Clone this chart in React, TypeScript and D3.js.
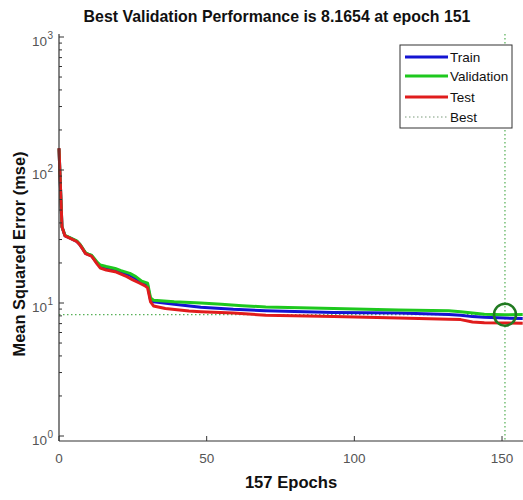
import React from "react";
import * as d3 from "d3";

// ---- Data ----
const trainEpochs = [0, 1, 2, 4, 6, 7, 8, 9, 10, 11, 12, 13, 14, 16, 19, 21, 24, 26, 28, 30, 31, 32, 39, 48, 59, 70, 93, 115, 132, 136, 140, 144, 151, 157];
const trainMse = [145, 37.4, 32.1, 30.6, 29.1, 27.6, 25.6, 23.6, 23.1, 22.7, 21.2, 19.8, 18.8, 18.2, 17.7, 17.0, 16.2, 15.3, 14.3, 13.6, 10.5, 10.2, 9.8, 9.3, 8.96, 8.75, 8.5, 8.4, 8.2, 8.1, 7.9, 7.8, 7.7, 7.65];

const valEpochs = [0, 1, 2, 4, 6, 7, 8, 9, 10, 11, 12, 13, 14, 16, 19, 21, 24, 26, 28, 30, 31, 32, 39, 48, 55, 62, 70, 93, 115, 132, 136, 140, 144, 151, 157];
const valMse = [145, 37.5, 32.3, 30.8, 29.3, 27.8, 25.8, 23.8, 23.3, 22.9, 21.5, 20.2, 19.3, 18.8, 18.2, 17.5, 16.7, 15.8, 14.6, 14.1, 10.9, 10.5, 10.2, 10.0, 9.8, 9.55, 9.35, 9.1, 8.86, 8.75, 8.6, 8.4, 8.22, 8.1654, 8.18];

const testEpochs = [0, 1, 2, 4, 6, 7, 8, 9, 10, 11, 12, 13, 14, 16, 19, 21, 23, 25, 27, 29, 30, 31, 32, 36, 44, 48, 59, 70, 93, 115, 132, 136, 140, 144, 157];
const testMse = [146, 37.5, 32, 30.5, 29, 27.5, 25.5, 23.5, 23, 22.5, 21, 19.5, 18.3, 17.7, 17.2, 16.5, 15.8, 14.9, 14.2, 13.5, 13, 10.2, 9.5, 9.1, 8.7, 8.6, 8.4, 8.1, 7.9, 7.7, 7.55, 7.5, 7.2, 7.1, 7.04];

const bestEpoch = 151;
const bestPerf = 8.1654;
const totalEpochs = 157;

const xTicks = [0, 50, 100, 150];
const yMajorTicks = [1, 10, 100, 1000];
const yTickExponents = ["0", "1", "2", "3"];

const legendLabels = ["Train", "Validation", "Test", "Best"];

const titleText = `Best Validation Performance is ${bestPerf} at epoch ${bestEpoch}`;
const xLabelText = `${totalEpochs} Epochs`;
const yLabelText = "Mean Squared Error  (mse)";

// ---- Styles ----
const W = 523;
const H = 500;
const left = 59;
const right = 522.7;
const axisTop = 34;
const axisBottom = 441;
const FONT = "'Liberation Sans', Arial, Helvetica, sans-serif";
const colors = { train: "#1414d2", val: "#1ec81e", test: "#e01c1c", best: "#2e9e2e", circle: "#217a21" };

export default function App() {
  const x = d3.scaleLinear().domain([0, totalEpochs]).range([left, right]);
  const y = d3.scaleLog().domain([1, 1000]).range([436, 37]);

  const line = d3
    .line<[number, number]>()
    .x((d) => x(d[0]))
    .y((d) => y(d[1]));

  const trainPath = line(trainEpochs.map((e, i) => [e, trainMse[i]]));
  const valPath = line(valEpochs.map((e, i) => [e, valMse[i]]));
  const testPath = line(testEpochs.map((e, i) => [e, testMse[i]]));

  const minorTicks: number[] = [];
  for (let dec = 1; dec <= 100; dec *= 10) {
    for (let k = 2; k <= 9; k++) minorTicks.push(k * dec);
  }

  const legendX = 400;
  const legendY = 45;
  const legendRows = [57, 76, 97, 117];
  const legendStyles = [
    { stroke: colors.train, width: 3, dash: undefined as string | undefined },
    { stroke: colors.val, width: 3, dash: undefined },
    { stroke: colors.test, width: 3, dash: undefined },
    { stroke: "#7a9a7a", width: 1, dash: "1.5,2.5" },
  ];

  return (
    <svg width={W} height={H} style={{ position: "absolute", left: 0, top: 0, background: "#fff" }}>
      <rect x={0} y={0} width={W} height={H} fill="#fff" />
      {/* Title */}
      <text x={277} y={22} textAnchor="middle" fontFamily={FONT} fontWeight="bold" fontSize={15.9} fill="#111">
        {titleText}
      </text>

      {/* Best lines */}
      <line x1={left} x2={right} y1={y(bestPerf)} y2={y(bestPerf)} stroke={colors.best} strokeWidth={1} strokeDasharray="1.5,2.5" />
      <line x1={x(bestEpoch)} x2={x(bestEpoch)} y1={axisTop} y2={axisBottom} stroke={colors.best} strokeWidth={1} strokeDasharray="1.5,2.5" />

      {/* Curves */}
      <path d={trainPath || ""} fill="none" stroke={colors.train} strokeWidth={3} strokeLinejoin="round" />
      <path d={valPath || ""} fill="none" stroke={colors.val} strokeWidth={3} strokeLinejoin="round" />
      <path d={testPath || ""} fill="none" stroke={colors.test} strokeWidth={3} strokeLinejoin="round" />

      {/* Best circle */}
      <circle cx={x(bestEpoch)} cy={y(bestPerf)} r={11} fill="none" stroke={colors.circle} strokeWidth={2.5} />

      {/* Axes */}
      <line x1={left} x2={left} y1={axisTop} y2={axisBottom} stroke="#333" strokeWidth={1.2} />
      <line x1={left} x2={W} y1={axisBottom} y2={axisBottom} stroke="#333" strokeWidth={1.2} />

      {/* Y ticks */}
      {yMajorTicks.map((t, i) => (
        <g key={"ym" + t}>
          <line x1={left} x2={left + 5} y1={y(t)} y2={y(t)} stroke="#333" strokeWidth={1} />
          <text x={47} y={y(t) + 9} textAnchor="end" fontFamily={FONT} fontSize={13.5} fill="#555">
            10
          </text>
          <text x={47.5} y={y(t) + 1.5} textAnchor="start" fontFamily={FONT} fontSize={10} fill="#555">
            {yTickExponents[i]}
          </text>
        </g>
      ))}
      {minorTicks.map((t) => (
        <line key={"yn" + t} x1={left} x2={left + 3} y1={y(t)} y2={y(t)} stroke="#333" strokeWidth={1} />
      ))}

      {/* X ticks */}
      {xTicks.map((t) => (
        <g key={"x" + t}>
          <line x1={x(t)} x2={x(t)} y1={axisBottom} y2={axisBottom - 5} stroke="#333" strokeWidth={1} />
          <text x={x(t)} y={463} textAnchor="middle" fontFamily={FONT} fontSize={13.5} fill="#555">
            {t}
          </text>
        </g>
      ))}

      {/* Axis labels */}
      <text x={291} y={488} textAnchor="middle" fontFamily={FONT} fontWeight="bold" fontSize={16.6} fill="#111">
        {xLabelText}
      </text>
      <text
        transform={`translate(25, 254) rotate(-90)`}
        textAnchor="middle"
        fontFamily={FONT}
        fontWeight="bold"
        fontSize={16.4}
        fill="#111"
      >
        {yLabelText}
      </text>

      {/* Legend */}
      <rect x={legendX} y={legendY} width={112} height={83} fill="#fff" stroke="#333" strokeWidth={1} />
      {legendLabels.map((lab, i) => (
        <g key={lab}>
          <line
            x1={405}
            x2={448}
            y1={legendRows[i]}
            y2={legendRows[i]}
            stroke={legendStyles[i].stroke}
            strokeWidth={legendStyles[i].width}
            strokeDasharray={legendStyles[i].dash}
          />
          <text x={450} y={legendRows[i] + 4.5} fontFamily={FONT} fontSize={13.5} fill="#111">
            {lab}
          </text>
        </g>
      ))}
    </svg>
  );
}
